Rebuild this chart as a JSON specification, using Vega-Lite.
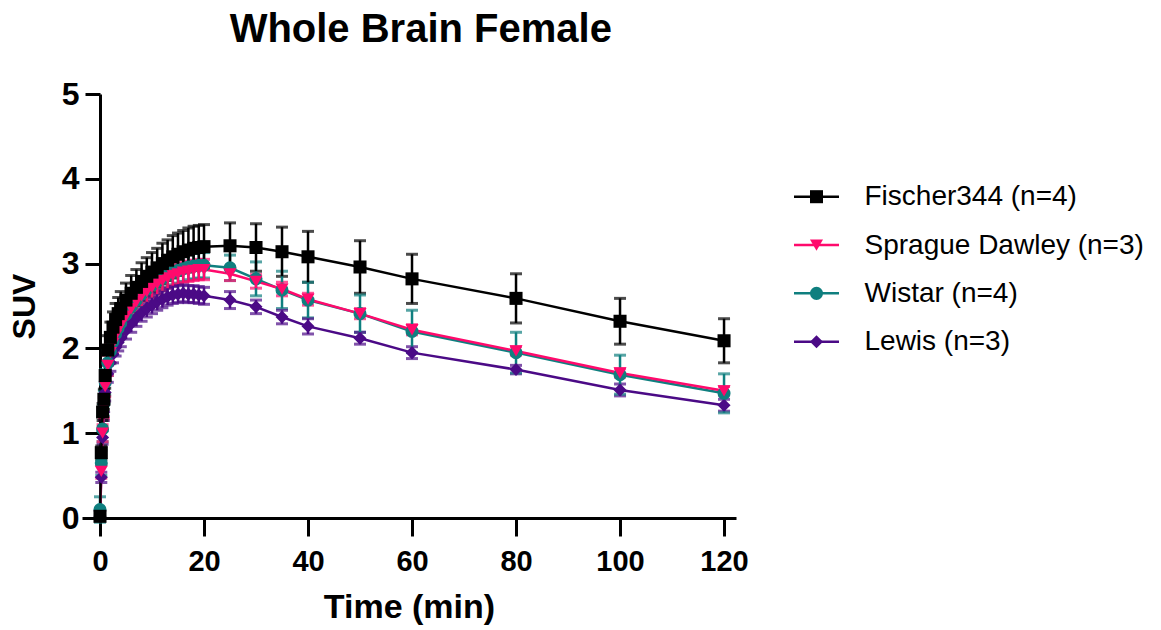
{
  "$schema": "https://vega.github.io/schema/vega-lite/v6.json",
  "padding": {"left": 8, "top": 10, "right": 5, "bottom": 5},
  "background": "white",
  "bounds": "flush",
  "spacing": 58,
  "config": {
    "view": {"stroke": null},
    "font": "Liberation Sans",
    "axis": {"grid": false, "domainColor": "black", "domainWidth": 3, "tickColor": "black", "tickWidth": 3, "labelColor": "black", "titleColor": "black"}
  },
  "title": {"text": "Whole Brain Female", "font": "Liberation Sans", "fontSize": 40, "fontWeight": "bold", "color": "black", "anchor": "middle", "dx": -155, "offset": 28},
  "hconcat": [
    {
      "width": 654,
      "height": 424,
      "data": {"values": [
        {"s":"Lewis (n=3)","t":0,"v":0.02,"e":0.03},{"s":"Lewis (n=3)","t":0.25,"v":0.48,"e":0.06},{"s":"Lewis (n=3)","t":0.5,"v":0.95,"e":0.08},{"s":"Lewis (n=3)","t":0.75,"v":1.25,"e":0.1},{"s":"Lewis (n=3)","t":1,"v":1.48,"e":0.1},{"s":"Lewis (n=3)","t":1.5,"v":1.7,"e":0.1},{"s":"Lewis (n=3)","t":2,"v":1.83,"e":0.1},{"s":"Lewis (n=3)","t":2.5,"v":1.93,"e":0.1},{"s":"Lewis (n=3)","t":3,"v":2.01,"e":0.1},{"s":"Lewis (n=3)","t":3.5,"v":2.07,"e":0.1},{"s":"Lewis (n=3)","t":4,"v":2.12,"e":0.1},{"s":"Lewis (n=3)","t":5,"v":2.21,"e":0.1},{"s":"Lewis (n=3)","t":6,"v":2.29,"e":0.1},{"s":"Lewis (n=3)","t":7,"v":2.36,"e":0.1},{"s":"Lewis (n=3)","t":8,"v":2.42,"e":0.1},{"s":"Lewis (n=3)","t":9,"v":2.47,"e":0.1},{"s":"Lewis (n=3)","t":10,"v":2.51,"e":0.1},{"s":"Lewis (n=3)","t":11,"v":2.55,"e":0.1},{"s":"Lewis (n=3)","t":12,"v":2.58,"e":0.1},{"s":"Lewis (n=3)","t":13,"v":2.61,"e":0.1},{"s":"Lewis (n=3)","t":14,"v":2.63,"e":0.1},{"s":"Lewis (n=3)","t":15,"v":2.64,"e":0.1},{"s":"Lewis (n=3)","t":16,"v":2.65,"e":0.1},{"s":"Lewis (n=3)","t":17,"v":2.64,"e":0.1},{"s":"Lewis (n=3)","t":18,"v":2.64,"e":0.1},{"s":"Lewis (n=3)","t":19,"v":2.63,"e":0.1},{"s":"Lewis (n=3)","t":20,"v":2.62,"e":0.1},{"s":"Lewis (n=3)","t":25,"v":2.57,"e":0.1},{"s":"Lewis (n=3)","t":30,"v":2.49,"e":0.08},{"s":"Lewis (n=3)","t":35,"v":2.37,"e":0.08},{"s":"Lewis (n=3)","t":40,"v":2.26,"e":0.09},{"s":"Lewis (n=3)","t":50,"v":2.12,"e":0.07},{"s":"Lewis (n=3)","t":60,"v":1.95,"e":0.07},{"s":"Lewis (n=3)","t":80,"v":1.75,"e":0.05},{"s":"Lewis (n=3)","t":100,"v":1.51,"e":0.07},{"s":"Lewis (n=3)","t":120,"v":1.33,"e":0.07},
        {"s":"Wistar (n=4)","t":0,"v":0.1,"e":0.15},{"s":"Wistar (n=4)","t":0.25,"v":0.65,"e":0.15},{"s":"Wistar (n=4)","t":0.5,"v":1.05,"e":0.15},{"s":"Wistar (n=4)","t":0.75,"v":1.35,"e":0.15},{"s":"Wistar (n=4)","t":1,"v":1.6,"e":0.15},{"s":"Wistar (n=4)","t":1.5,"v":1.83,"e":0.15},{"s":"Wistar (n=4)","t":2,"v":1.97,"e":0.15},{"s":"Wistar (n=4)","t":2.5,"v":2.08,"e":0.15},{"s":"Wistar (n=4)","t":3,"v":2.17,"e":0.15},{"s":"Wistar (n=4)","t":3.5,"v":2.24,"e":0.15},{"s":"Wistar (n=4)","t":4,"v":2.3,"e":0.15},{"s":"Wistar (n=4)","t":5,"v":2.4,"e":0.15},{"s":"Wistar (n=4)","t":6,"v":2.49,"e":0.15},{"s":"Wistar (n=4)","t":7,"v":2.57,"e":0.15},{"s":"Wistar (n=4)","t":8,"v":2.64,"e":0.15},{"s":"Wistar (n=4)","t":9,"v":2.7,"e":0.15},{"s":"Wistar (n=4)","t":10,"v":2.75,"e":0.15},{"s":"Wistar (n=4)","t":11,"v":2.79,"e":0.15},{"s":"Wistar (n=4)","t":12,"v":2.83,"e":0.15},{"s":"Wistar (n=4)","t":13,"v":2.87,"e":0.15},{"s":"Wistar (n=4)","t":14,"v":2.9,"e":0.15},{"s":"Wistar (n=4)","t":15,"v":2.92,"e":0.15},{"s":"Wistar (n=4)","t":16,"v":2.94,"e":0.15},{"s":"Wistar (n=4)","t":17,"v":2.96,"e":0.15},{"s":"Wistar (n=4)","t":18,"v":2.97,"e":0.15},{"s":"Wistar (n=4)","t":19,"v":2.98,"e":0.15},{"s":"Wistar (n=4)","t":20,"v":2.98,"e":0.15},{"s":"Wistar (n=4)","t":25,"v":2.95,"e":0.15},{"s":"Wistar (n=4)","t":30,"v":2.82,"e":0.2},{"s":"Wistar (n=4)","t":35,"v":2.69,"e":0.22},{"s":"Wistar (n=4)","t":40,"v":2.57,"e":0.21},{"s":"Wistar (n=4)","t":50,"v":2.41,"e":0.22},{"s":"Wistar (n=4)","t":60,"v":2.2,"e":0.25},{"s":"Wistar (n=4)","t":80,"v":1.95,"e":0.24},{"s":"Wistar (n=4)","t":100,"v":1.69,"e":0.23},{"s":"Wistar (n=4)","t":120,"v":1.47,"e":0.23},
        {"s":"Sprague Dawley (n=3)","t":0,"v":0.02,"e":0.03},{"s":"Sprague Dawley (n=3)","t":0.25,"v":0.55,"e":0.08},{"s":"Sprague Dawley (n=3)","t":0.5,"v":1.0,"e":0.1},{"s":"Sprague Dawley (n=3)","t":0.75,"v":1.3,"e":0.12},{"s":"Sprague Dawley (n=3)","t":1,"v":1.55,"e":0.12},{"s":"Sprague Dawley (n=3)","t":1.5,"v":1.8,"e":0.12},{"s":"Sprague Dawley (n=3)","t":2,"v":1.95,"e":0.12},{"s":"Sprague Dawley (n=3)","t":2.5,"v":2.06,"e":0.12},{"s":"Sprague Dawley (n=3)","t":3,"v":2.15,"e":0.12},{"s":"Sprague Dawley (n=3)","t":3.5,"v":2.22,"e":0.12},{"s":"Sprague Dawley (n=3)","t":4,"v":2.28,"e":0.12},{"s":"Sprague Dawley (n=3)","t":5,"v":2.38,"e":0.12},{"s":"Sprague Dawley (n=3)","t":6,"v":2.47,"e":0.12},{"s":"Sprague Dawley (n=3)","t":7,"v":2.55,"e":0.12},{"s":"Sprague Dawley (n=3)","t":8,"v":2.62,"e":0.12},{"s":"Sprague Dawley (n=3)","t":9,"v":2.67,"e":0.12},{"s":"Sprague Dawley (n=3)","t":10,"v":2.72,"e":0.12},{"s":"Sprague Dawley (n=3)","t":11,"v":2.76,"e":0.12},{"s":"Sprague Dawley (n=3)","t":12,"v":2.8,"e":0.12},{"s":"Sprague Dawley (n=3)","t":13,"v":2.83,"e":0.12},{"s":"Sprague Dawley (n=3)","t":14,"v":2.86,"e":0.12},{"s":"Sprague Dawley (n=3)","t":15,"v":2.88,"e":0.12},{"s":"Sprague Dawley (n=3)","t":16,"v":2.9,"e":0.12},{"s":"Sprague Dawley (n=3)","t":17,"v":2.91,"e":0.12},{"s":"Sprague Dawley (n=3)","t":18,"v":2.92,"e":0.12},{"s":"Sprague Dawley (n=3)","t":19,"v":2.93,"e":0.12},{"s":"Sprague Dawley (n=3)","t":20,"v":2.93,"e":0.12},{"s":"Sprague Dawley (n=3)","t":25,"v":2.88,"e":0.08},{"s":"Sprague Dawley (n=3)","t":30,"v":2.79,"e":0.08},{"s":"Sprague Dawley (n=3)","t":35,"v":2.7,"e":0.08},{"s":"Sprague Dawley (n=3)","t":40,"v":2.58,"e":0.07},{"s":"Sprague Dawley (n=3)","t":50,"v":2.41,"e":0.06},{"s":"Sprague Dawley (n=3)","t":60,"v":2.22,"e":0.06},{"s":"Sprague Dawley (n=3)","t":80,"v":1.97,"e":0.05},{"s":"Sprague Dawley (n=3)","t":100,"v":1.71,"e":0.05},{"s":"Sprague Dawley (n=3)","t":120,"v":1.5,"e":0.05},
        {"s":"Fischer344 (n=4)","t":0,"v":0.02,"e":0.02},{"s":"Fischer344 (n=4)","t":0.25,"v":0.77,"e":0.08},{"s":"Fischer344 (n=4)","t":0.5,"v":1.25,"e":0.1},{"s":"Fischer344 (n=4)","t":0.75,"v":1.4,"e":0.12},{"s":"Fischer344 (n=4)","t":1,"v":1.68,"e":0.15},{"s":"Fischer344 (n=4)","t":1.5,"v":1.98,"e":0.17},{"s":"Fischer344 (n=4)","t":2,"v":2.13,"e":0.18},{"s":"Fischer344 (n=4)","t":2.5,"v":2.25,"e":0.18},{"s":"Fischer344 (n=4)","t":3,"v":2.34,"e":0.19},{"s":"Fischer344 (n=4)","t":3.5,"v":2.41,"e":0.19},{"s":"Fischer344 (n=4)","t":4,"v":2.47,"e":0.2},{"s":"Fischer344 (n=4)","t":5,"v":2.57,"e":0.2},{"s":"Fischer344 (n=4)","t":6,"v":2.65,"e":0.21},{"s":"Fischer344 (n=4)","t":7,"v":2.72,"e":0.21},{"s":"Fischer344 (n=4)","t":8,"v":2.79,"e":0.22},{"s":"Fischer344 (n=4)","t":9,"v":2.85,"e":0.22},{"s":"Fischer344 (n=4)","t":10,"v":2.9,"e":0.23},{"s":"Fischer344 (n=4)","t":11,"v":2.95,"e":0.23},{"s":"Fischer344 (n=4)","t":12,"v":3.0,"e":0.24},{"s":"Fischer344 (n=4)","t":13,"v":3.04,"e":0.24},{"s":"Fischer344 (n=4)","t":14,"v":3.08,"e":0.25},{"s":"Fischer344 (n=4)","t":15,"v":3.11,"e":0.25},{"s":"Fischer344 (n=4)","t":16,"v":3.14,"e":0.25},{"s":"Fischer344 (n=4)","t":17,"v":3.16,"e":0.26},{"s":"Fischer344 (n=4)","t":18,"v":3.18,"e":0.26},{"s":"Fischer344 (n=4)","t":19,"v":3.19,"e":0.26},{"s":"Fischer344 (n=4)","t":20,"v":3.2,"e":0.26},{"s":"Fischer344 (n=4)","t":25,"v":3.21,"e":0.27},{"s":"Fischer344 (n=4)","t":30,"v":3.19,"e":0.28},{"s":"Fischer344 (n=4)","t":35,"v":3.14,"e":0.29},{"s":"Fischer344 (n=4)","t":40,"v":3.08,"e":0.3},{"s":"Fischer344 (n=4)","t":50,"v":2.96,"e":0.31},{"s":"Fischer344 (n=4)","t":60,"v":2.82,"e":0.29},{"s":"Fischer344 (n=4)","t":80,"v":2.59,"e":0.29},{"s":"Fischer344 (n=4)","t":100,"v":2.32,"e":0.27},{"s":"Fischer344 (n=4)","t":120,"v":2.09,"e":0.26}
      ]},
      "encoding": {
        "x": {"field": "t", "type": "quantitative", "scale": {"domain": [-3.46, 122.3], "nice": false, "zero": false},
          "axis": {"values": [0, 20, 40, 60, 80, 100, 120], "tickSize": 18, "labelFont": "Liberation Sans", "labelFontSize": 29, "labelFontWeight": "bold", "labelPadding": 11, "title": "Time (min)", "titleFont": "Liberation Sans", "titleFontSize": 34, "titleFontWeight": "bold", "titlePadding": 14}},
        "y": {"field": "v", "type": "quantitative", "scale": {"domain": [0, 5], "nice": false},
          "axis": {"values": [0, 1, 2, 3, 4, 5], "offset": -18, "tickSize": 15, "labelFont": "Liberation Sans", "labelFontSize": 32, "labelFontWeight": "bold", "labelPadding": 6, "title": "SUV", "titleFont": "Liberation Sans", "titleFontSize": 32, "titleFontWeight": "bold", "titlePadding": 20}},
        "color": {"field": "s", "type": "nominal", "legend": null,
          "scale": {"domain": ["Fischer344 (n=4)", "Sprague Dawley (n=3)", "Wistar (n=4)", "Lewis (n=3)"], "range": ["#000000", "#FF0A6C", "#0F7F7F", "#4B0A86"]}}
      },
      "layer": [
        {"mark": {"type": "errorbar", "ticks": {"size": 12, "thickness": 3}, "rule": {"strokeWidth": 2.5}},
         "encoding": {"y": {"field": "v", "type": "quantitative"}, "yError": {"field": "e"}}},
        {"mark": {"type": "line", "strokeWidth": 2.5}},
        {"mark": {"type": "point", "filled": true, "size": 170, "opacity": 1},
         "encoding": {"shape": {"field": "s", "type": "nominal", "legend": null,
           "scale": {"domain": ["Fischer344 (n=4)", "Sprague Dawley (n=3)", "Wistar (n=4)", "Lewis (n=3)"], "range": ["square", "triangle-down", "circle", "diamond"]}}}}
      ]
    },
    {
      "width": 45,
      "height": 424,
      "data": {"values": [{"s": "Fischer344 (n=4)"}, {"s": "Sprague Dawley (n=3)"}, {"s": "Wistar (n=4)"}, {"s": "Lewis (n=3)"}]},
      "encoding": {
        "y": {"field": "s", "type": "nominal",
          "scale": {"type": "point", "padding": 0, "domain": ["Fischer344 (n=4)", "Sprague Dawley (n=3)", "Wistar (n=4)", "Lewis (n=3)"], "range": [102.7, 247.7]},
          "axis": {"orient": "right", "title": null, "domain": false, "ticks": false, "labelPadding": 25, "labelFont": "Liberation Sans", "labelFontSize": 28, "labelFontWeight": "normal", "labelLimit": 500, "labelColor": "black"}},
        "color": {"field": "s", "type": "nominal", "legend": null,
          "scale": {"domain": ["Fischer344 (n=4)", "Sprague Dawley (n=3)", "Wistar (n=4)", "Lewis (n=3)"], "range": ["#000000", "#FF0A6C", "#0F7F7F", "#4B0A86"]}}
      },
      "layer": [
        {"mark": {"type": "rule", "strokeWidth": 2.5},
         "encoding": {"x": {"datum": 0, "type": "quantitative", "scale": {"domain": [0, 1], "nice": false}, "axis": null}, "x2": {"datum": 1}}},
        {"mark": {"type": "point", "filled": true, "size": 170, "opacity": 1},
         "encoding": {"x": {"datum": 0.5, "type": "quantitative"},
           "shape": {"field": "s", "type": "nominal", "legend": null,
             "scale": {"domain": ["Fischer344 (n=4)", "Sprague Dawley (n=3)", "Wistar (n=4)", "Lewis (n=3)"], "range": ["square", "triangle-down", "circle", "diamond"]}}}}
      ]
    }
  ]
}
